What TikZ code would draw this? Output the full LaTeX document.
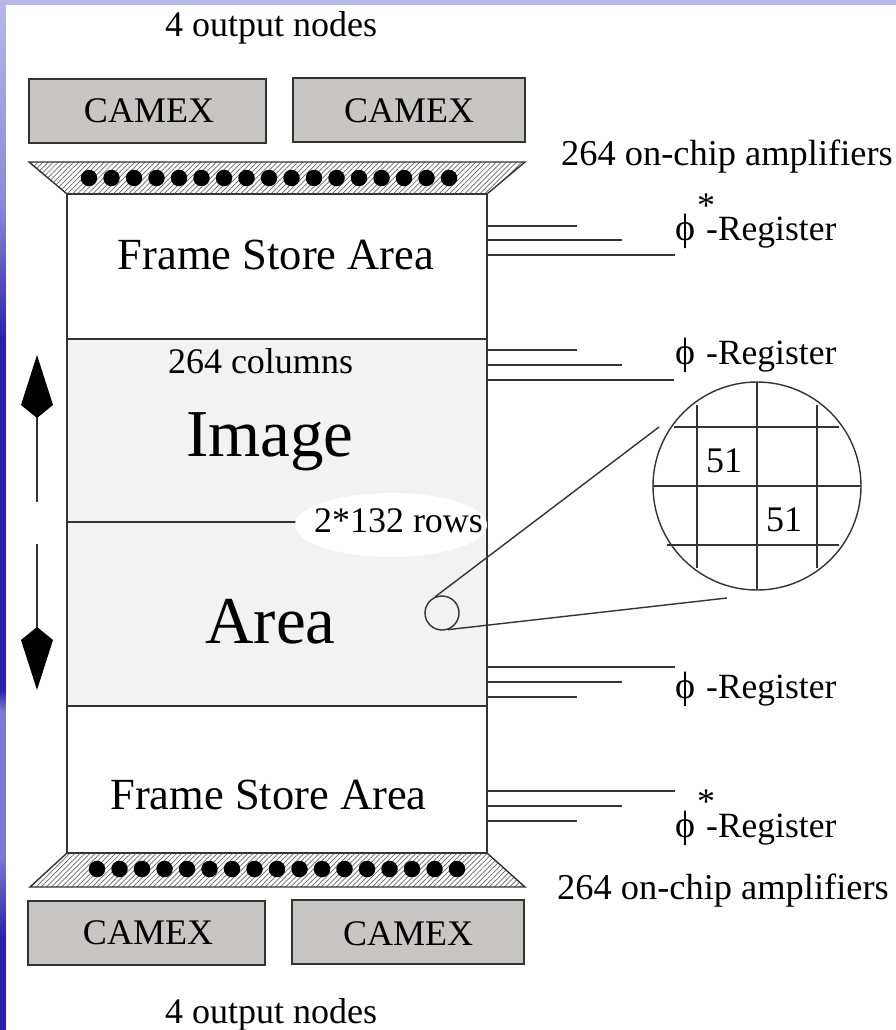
\documentclass[tikz,border=0pt]{standalone}
\usepackage{fontspec}
\usepackage{tikz}
\setmainfont{Liberation Serif}
\usetikzlibrary{arrows.meta,patterns.meta,shapes.geometric}
\definecolor{camexbg}{HTML}{C8C6C4}
\definecolor{imagebg}{HTML}{F2F2F2}
\definecolor{linetxt}{HTML}{333333}
\definecolor{hatchline}{HTML}{666666}
\definecolor{edgelight}{HTML}{B8B8E8}
\definecolor{edgemid}{HTML}{8A88D8}
\definecolor{edgesoft}{HTML}{7C7ACE}
\definecolor{edgedark}{HTML}{2A20B0}
\pgfdeclareverticalshading{slideedge}{100bp}{
  color(0bp)=(edgedark); color(29.5bp)=(edgedark); color(33.5bp)=(edgesoft);
  color(40.5bp)=(edgesoft); color(41.5bp)=(edgedark); color(58.5bp)=(edgedark);
  color(65bp)=(edgemid); color(75bp)=(edgelight); color(100bp)=(edgelight)}

\begin{document}
\begin{tikzpicture}[
  x=1pt, y=-1pt,
  camex/.style={
    rectangle,
    draw=linetxt,
    fill=camexbg,
    line width=1.4pt,
    minimum width=237pt,
    minimum height=64pt,
    inner sep=0pt
  },
  hatchbar/.style={
    draw=linetxt,
    line width=1.4pt,
    pattern={Lines[angle=45,distance=3.6pt,line width=0.7pt]},
    pattern color=hatchline
  },
  wire/.style={linetxt, line width=1.4pt},
  txt/.style={anchor=base, inner sep=0pt, font=\fontsize{36}{40}\selectfont},
  big/.style={anchor=base, inner sep=0pt, font=\fontsize{44.5}{50}\selectfont},
  huge/.style={anchor=base, inner sep=0pt, font=\fontsize{67}{70}\selectfont},
  bead/.style={circle, fill=black, minimum size=16.5pt, inner sep=0pt}
]
\useasboundingbox (0,0) rectangle (896,1030);

% --- slide edge ---
\shade[shading=slideedge] (0,1030) rectangle (896,0);
\fill[white] (6,5) rectangle (896,1030);

% --- chip ---
\fill[imagebg] (67,339) rectangle (487,706);
\node[draw=linetxt, line width=1.4pt, rectangle, minimum width=420pt, minimum height=659pt, inner sep=0pt] (chip) at (277,523.5) {};
\draw[wire] (chip.west |- 0,339) -- (chip.east |- 0,339);
\draw[wire] (chip.west |- 0,706) -- (chip.east |- 0,706);
\draw[wire] (chip.west |- 0,522) -- (310,522);
\node[ellipse, fill=white, minimum width=192pt, minimum height=64pt, inner sep=0pt] (rowsbg) at (391,525) {};

% --- readout bars ---
\draw[hatchbar] (29,162) -- (525,162) -- (487,194) -- (67,194) -- cycle;
\draw[hatchbar] (67,853) -- (487,853) -- (525,887) -- (30,887) -- cycle;
\foreach \i in {0,...,16} {
  \node[bead] (top\i) at (89+\i*22.5, 178) {};
  \node[bead] (bot\i) at (97+\i*22.5, 869) {};
}

% --- CAMEX boxes ---
\node[camex] (camexa) at (147.5,111) {};
\node[camex, minimum width=232pt] (camexb) at (409,110) {};
\node[camex] (camexc) at (146.5,933) {};
\node[camex, minimum width=232pt] (camexd) at (408,932) {};
\node[txt] at (149,122) {CAMEX};
\node[txt] at (409,123) {CAMEX};
\node[txt] at (148,944) {CAMEX};
\node[txt] at (408,945) {CAMEX};

% --- chip labels ---
\node[txt] at (271,37) {4 output nodes};
\node[txt] at (271,1023) {4 output nodes};
\node[big] at (276,269) {Frame Store Area};
\node[big] at (268.5,809) {Frame Store Area};
\node[txt] at (260.5,373) {264 columns};
\node[huge] at (270,456) {Image};
\node[huge] at (270.5,643) {Area};
\node[txt] at (398.5,532) {2*132 rows};
\node[txt, anchor=base west, font=\fontsize{36.4}{40}\selectfont] at (561,165) {264 on-chip amplifiers};
\node[txt, anchor=base west, font=\fontsize{36.4}{40}\selectfont] at (557,899) {264 on-chip amplifiers};

% --- register lines ---
\foreach \y/\x in {226/577, 240/622, 255/675, 350/577, 365/622, 380/674,
                   667/675, 682/622, 697/577, 791/675, 806/622, 821/577} {
  \draw[wire] (chip.east |- 0,\y) -- (\x,\y);
}
\foreach \y in {240,364,698,837} {
  \node[txt, anchor=base west, font=\fontsize{38}{40}\selectfont] at (675,\y) {ϕ};
  \node[txt, anchor=base west, font=\fontsize{35.5}{40}\selectfont] at (706,\y) {-Register};
}
\node[txt] at (706,217) {*};
\node[txt] at (706,813) {*};

% --- shift arrows ---
\coordinate (upa) at (37,502);
\coordinate (upb) at (37,355);
\coordinate (dna) at (37,544);
\coordinate (dnb) at (37,690);
\draw[linetxt, line width=1.4pt, -{Kite[length=63pt,width=32pt,inset=13pt,fill=black,color=black]}] (upa) -- (upb);
\draw[linetxt, line width=1.4pt, -{Kite[length=63pt,width=32pt,inset=13pt,fill=black,color=black]}] (dna) -- (dnb);

% --- magnifier ---
\node[circle, draw=linetxt, line width=1.4pt, minimum size=34pt, inner sep=0pt] (spot) at (442,613) {};
\node[circle, draw=linetxt, line width=1.4pt, minimum size=208pt, inner sep=0pt] (lens) at (757,486) {};
\coordinate (lensa) at (659,427);
\coordinate (lensb) at (727,598);
\draw[wire] (spot.112) -- (lensa);
\draw[wire] (spot.290) -- (lensb);
\foreach \x/\a/\b in {697/405/568, 757/382/590, 817/405/568} {
  \draw[wire] (\x,\a) -- (\x,\b);
}
\foreach \y/\a/\b in {427/674/839, 486/653/861, 545/667/839} {
  \draw[wire] (\a,\y) -- (\b,\y);
}
\node[txt] at (724,472) {51};
\node[txt] at (784,531) {51};

\end{tikzpicture}
\end{document}
